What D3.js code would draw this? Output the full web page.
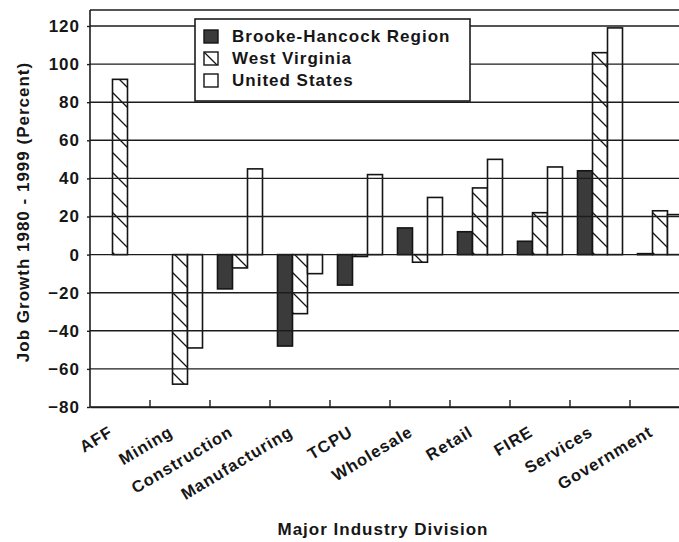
<!DOCTYPE html>
<html>
<head>
<meta charset="utf-8">
<script src="https://cdn.jsdelivr.net/npm/d3@7"></script>
<style>
  body { margin: 0; background: #fff; }
  svg text { font-family: "Liberation Sans", Arial, sans-serif; font-weight: bold; fill: #161616; letter-spacing: 1px; }
</style>
</head>
<body>
<div id="chart"></div>
<script>
// Data
const categories = ["AFF", "Mining", "Construction", "Manufacturing", "TCPU", "Wholesale", "Retail", "FIRE", "Services", "Government"]
const seriesNames = ["Brooke-Hancock Region", "West Virginia", "United States"]
const brookeHancock = [null, null, -18, -48, -16, 14, 12, 7, 44, 0.5]
const westVirginia = [92, -68, -7, -31, -1, -4, 35, 22, 106, 23]
const unitedStates = [null, -49, 45, -10, 42, 30, 50, 46, 119, 21]
const yTicks = [120, 100, 80, 60, 40, 20, 0, -20, -40, -60, -80]

// Dimensions
const width = 679
const height = 542
const margin = {top: 10, left: 90}
const plotRight = 690
const plotBottom = 407
const barStroke = "#141414"
const darkFill = "#3b3b3b"

const svg = d3.select("#chart")
  .append("svg")
    .attr("width", width)
    .attr("height", height)

// Hatch pattern for West Virginia
const defs = svg.append("defs")
const hatch = defs.append("pattern")
    .attr("id", "hatch")
    .attr("patternUnits", "userSpaceOnUse")
    .attr("width", 20)
    .attr("height", 20)
hatch.append("rect").attr("width", 20).attr("height", 20).attr("fill", "#fff")
hatch.append("path")
    .attr("d", "M0,0 L20,20 M-5,15 L5,25 M15,-5 L25,5")
    .attr("stroke", barStroke)
    .attr("stroke-width", 1.3)

// Scales
const x0 = d3.scaleBand()
    .domain(categories)
    .range([margin.left, plotRight])
    .paddingInner(0.25)
    .paddingOuter(0.125)

const x1 = d3.scaleBand()
    .domain(seriesNames)
    .range([0, x0.bandwidth()])

const y = d3.scaleLinear()
    .domain([-80, 120])
    .range([plotBottom, 26])

const fills = {
  "Brooke-Hancock Region": darkFill,
  "West Virginia": "url(#hatch)",
  "United States": "#fff"
}

const rows = []
categories.forEach(function(c, i) {
  rows.push({cat: c, series: seriesNames[0], value: brookeHancock[i]})
  rows.push({cat: c, series: seriesNames[1], value: westVirginia[i]})
  rows.push({cat: c, series: seriesNames[2], value: unitedStates[i]})
})

// Bars
svg.append("g")
  .selectAll("rect")
  .data(rows.filter(function(d) { return d.value !== null }))
  .enter().append("rect")
    .attr("x", function(d) { return x0(d.cat) + x1(d.series) })
    .attr("y", function(d) { return y(Math.max(0, d.value)) })
    .attr("width", x1.bandwidth())
    .attr("height", function(d) { return Math.max(1, Math.abs(y(d.value) - y(0))) })
    .attr("fill", function(d) { return fills[d.series] })
    .attr("stroke", barStroke)
    .attr("stroke-width", 1.6)

// Grid lines (drawn over the bars)
svg.append("g")
  .selectAll("line")
  .data(yTicks)
  .enter().append("line")
    .attr("x1", margin.left)
    .attr("x2", width)
    .attr("y1", function(d) { return y(d) })
    .attr("y2", function(d) { return y(d) })
    .attr("stroke", "#1c1c1c")
    .attr("stroke-width", 1.4)

// Top frame line
svg.append("line")
    .attr("x1", margin.left)
    .attr("x2", width)
    .attr("y1", margin.top)
    .attr("y2", margin.top)
    .attr("stroke", "#1c1c1c")
    .attr("stroke-width", 1.4)

// Y axis
const yAxis = svg.append("g")
    .attr("transform", `translate(${margin.left},0)`)
    .call(d3.axisLeft(y)
      .tickValues(yTicks)
      .tickSize(3)
      .tickPadding(7)
      .tickSizeOuter(0))
yAxis.select(".domain").remove()
yAxis.selectAll("line").attr("stroke", "#1c1c1c").attr("stroke-width", 1.4)
yAxis.selectAll("text")
    .style("font-size", "17px")
    .style("font-family", null)

svg.append("line")
    .attr("x1", margin.left)
    .attr("x2", margin.left)
    .attr("y1", margin.top)
    .attr("y2", plotBottom)
    .attr("stroke", "#1c1c1c")
    .attr("stroke-width", 1.6)

// X axis
const xAxis = svg.append("g")
    .attr("transform", `translate(0,${plotBottom})`)
    .call(d3.axisBottom(x0).tickSize(0).tickSizeOuter(0))
xAxis.select(".domain").attr("stroke", "#1c1c1c").attr("stroke-width", 1.6)
xAxis.selectAll("text")
    .attr("x", 0)
    .attr("y", 0)
    .attr("dy", 0)
    .attr("text-anchor", "end")
    .attr("transform", "translate(-6,28) rotate(-31)")
    .style("font-size", "16.5px")
    .style("font-family", null)

// Tick marks between categories
const boundaries = d3.range(1, categories.length)
svg.append("g")
  .selectAll("line")
  .data(boundaries)
  .enter().append("line")
    .attr("x1", function(d) { return margin.left + d * x0.step() })
    .attr("x2", function(d) { return margin.left + d * x0.step() })
    .attr("y1", plotBottom)
    .attr("y2", plotBottom - 7)
    .attr("stroke", "#1c1c1c")
    .attr("stroke-width", 1.4)

// Axis titles
svg.append("text")
    .attr("transform", "translate(29,212) rotate(-90)")
    .attr("text-anchor", "middle")
    .style("font-size", "17px")
    .text("Job Growth 1980 - 1999 (Percent)")

svg.append("text")
    .attr("x", 383)
    .attr("y", 535)
    .attr("text-anchor", "middle")
    .style("font-size", "17px")
    .text("Major Industry Division")

// Legend
const legend = svg.append("g")
legend.append("rect")
    .attr("x", 195)
    .attr("y", 19)
    .attr("width", 275)
    .attr("height", 82)
    .attr("fill", "#fff")
    .attr("stroke", "#1c1c1c")
    .attr("stroke-width", 1.6)

const legendItems = legend.selectAll(".legend-item")
  .data(seriesNames)
  .enter().append("g")
    .attr("class", "legend-item")
    .attr("transform", function(d, i) { return `translate(204,${30 + i * 22})` })

legendItems.append("rect")
    .attr("width", 14)
    .attr("height", 13)
    .attr("fill", function(d) { return fills[d] })
    .attr("stroke", barStroke)
    .attr("stroke-width", 1.4)

legendItems.append("text")
    .attr("x", 28)
    .attr("y", 12)
    .style("font-size", "17px")
    .text(function(d) { return d })
</script>
</body>
</html>
